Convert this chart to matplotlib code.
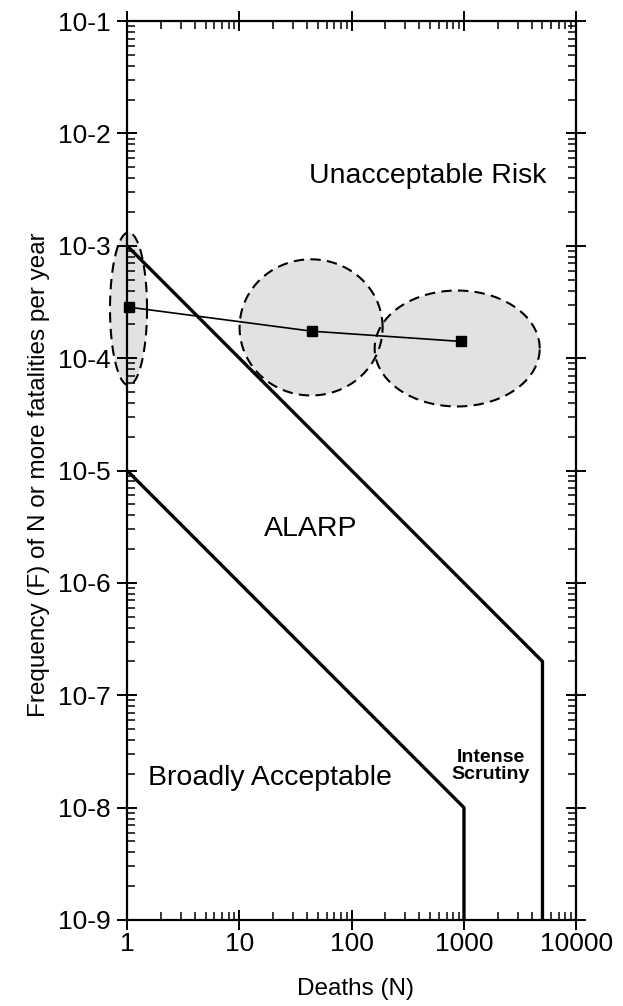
import numpy as np
import matplotlib.pyplot as plt
from matplotlib.ticker import FixedLocator, FixedFormatter, LogLocator, NullFormatter

plt.rcParams['font.family'] = ['Liberation Sans', 'DejaVu Sans']

#%% data

# F-N criterion lines
upper_N = [1, 5000, 5000]
upper_F = [1e-3, 2e-7, 1e-9]
lower_N = [1, 1000, 1000]
lower_F = [1e-5, 1e-8, 1e-9]

# estimated risk points
point_N = [1.03, 44, 940]
point_F = [2.85e-4, 1.74e-4, 1.41e-4]

# uncertainty ellipses: centre, half width / half height in decades
ell_N = [1.03, 43.5, 870]
ell_F = [2.75e-4, 1.88e-4, 1.22e-4]
ell_wN = [0.165, 0.637, 0.735]
ell_hF = [0.68, 0.606, 0.516]

xticks = [1, 10, 100, 1000, 10000]
xticklabels = ['1', '10', '100', '1000', '10000']
yticks = [1e-9, 1e-8, 1e-7, 1e-6, 1e-5, 1e-4, 1e-3, 1e-2, 1e-1]
yticklabels = ['10-9', '10-8', '10-7', '10-6', '10-5', '10-4', '10-3', '10-2', '10-1']

#%% plot

fig = plt.figure(figsize=(6.23, 10.06), dpi=100)
ax = fig.add_axes([0.204, 0.0855, 0.721, 0.8935])

t = np.linspace(0, 2 * np.pi, 200)
for cn, cf, wn, hf in zip(ell_N, ell_F, ell_wN, ell_hF):
    en = 10 ** (np.log10(cn) + wn * np.cos(t))
    ef = 10 ** (np.log10(cf) + hf * np.sin(t))
    ax.fill(en, ef, facecolor='#e2e2e2', edgecolor='none', zorder=1, clip_on=False)
    ax.plot(en, ef, color='k', lw=1.5, linestyle=(0, (5, 3)), zorder=2, clip_on=False)

ax.plot(upper_N, upper_F, color='k', lw=2.4, zorder=3)
ax.plot(lower_N, lower_F, color='k', lw=2.4, zorder=3)
ax.plot(point_N, point_F, color='k', lw=1.2, marker='s', ms=7.5, zorder=4, clip_on=False)

ax.set_xscale('log')
ax.set_yscale('log')
ax.set_xlim(1, 10000)
ax.set_ylim(1e-9, 1e-1)

ax.xaxis.set_major_locator(FixedLocator(xticks))
ax.xaxis.set_major_formatter(FixedFormatter(xticklabels))
ax.yaxis.set_major_locator(FixedLocator(yticks))
ax.yaxis.set_major_formatter(FixedFormatter(yticklabels))
ax.xaxis.set_minor_locator(LogLocator(base=10, subs=np.arange(2, 10), numticks=100))
ax.yaxis.set_minor_locator(LogLocator(base=10, subs=np.arange(2, 10), numticks=100))
ax.xaxis.set_minor_formatter(NullFormatter())
ax.yaxis.set_minor_formatter(NullFormatter())

ax.tick_params(which='major', direction='inout', length=15, width=1.4,
               top=True, right=True, labelsize=19)
ax.tick_params(axis='x', which='major', pad=1)
ax.tick_params(axis='y', which='major', pad=4)
ax.tick_params(which='minor', direction='in', length=6, width=1.1,
               top=True, right=True)
for sp in ax.spines.values():
    sp.set_linewidth(1.6)

ax.set_xlabel('Deaths (N)', fontsize=17.5)
ax.xaxis.set_label_coords(0.508, -0.064)
ax.set_ylabel('Frequency (F) of N or more fatalities per year', fontsize=17.5)
ax.yaxis.set_label_coords(-0.171, 0.495)

ax.text(474, 3.6e-3, 'Unacceptable Risk', fontsize=20.5, ha='center', va='baseline')
ax.text(43.5, 2.6e-6, 'ALARP', fontsize=20.5, ha='center', va='baseline')
ax.text(18.6, 1.6e-8, 'Broadly Acceptable', fontsize=20.5, ha='center', va='baseline')
ax.text(1742, 2.37e-8, 'Intense\nScrutiny', fontsize=14, fontweight='bold',
        ha='center', va='center', linespacing=1.0)

plt.savefig('out.png', dpi=100)
